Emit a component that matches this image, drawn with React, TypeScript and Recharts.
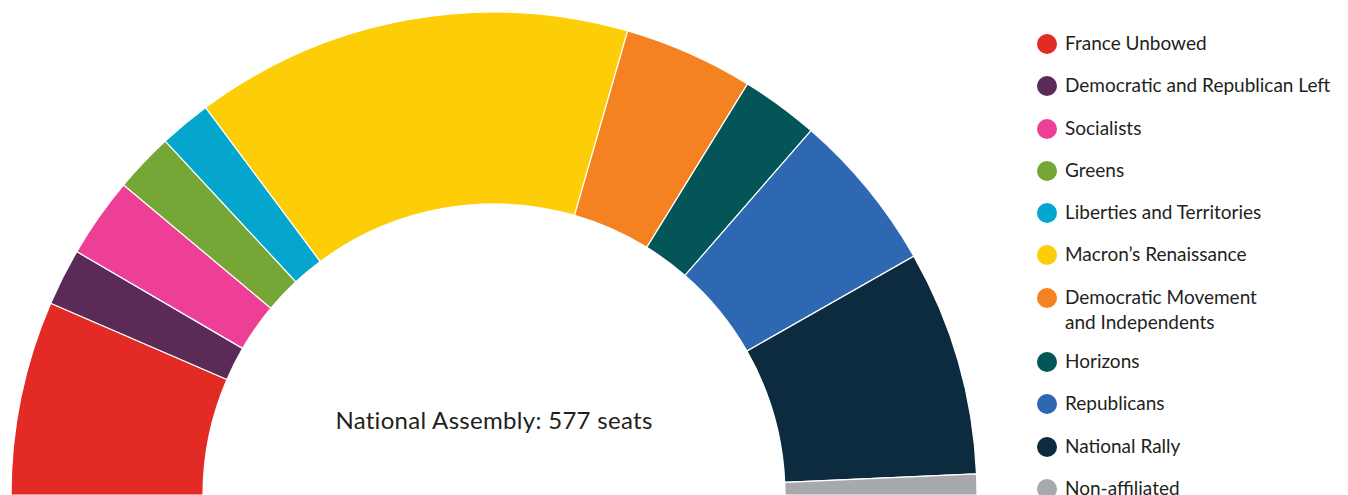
import React from "react";
import { PieChart, Pie, Cell, Legend } from "recharts";

const parties = [
  "France Unbowed",
  "Democratic and Republican Left",
  "Socialists",
  "Greens",
  "Liberties and Territories",
  "Macron’s Renaissance",
  "Democratic Movement\nand Independents",
  "Horizons",
  "Republicans",
  "National Rally",
  "Non-affiliated",
];
const seats = [75, 22, 31, 23, 20, 169, 50, 30, 62, 87, 8];
const colors = [
  "#e32b25",
  "#5b2a56",
  "#ee3f96",
  "#76a636",
  "#05a6cd",
  "#fdcd07",
  "#f58220",
  "#045557",
  "#2e68b2",
  "#0d2b3e",
  "#a7a9ac",
];
const centerTitle = "National Assembly: 577 seats";

const data = parties.map((name, i) => ({ name, value: seats[i], color: colors[i] }));

const FONT = "Lato, 'Open Sans', sans-serif";

const LegendContent = () => (
  <div style={{ fontFamily: FONT, color: "#231f20" }}>
    {data.map((d, i) => {
      const lines = d.name.split("\n");
      return (
        <div
          key={d.name}
          style={{ display: "flex", alignItems: "flex-start", height: lines.length > 1 ? 64.5 : 42.25 }}
        >
          <div
            style={{
              width: 20,
              height: 20,
              borderRadius: 10,
              background: d.color,
              marginTop: 3,
              flex: "none",
            }}
          />
          <div style={{ marginLeft: 8, fontSize: 19, lineHeight: "25px", marginTop: -1 }}>
            {lines.map((l) => (
              <div key={l}>{l}</div>
            ))}
          </div>
        </div>
      );
    })}
  </div>
);

export default function App() {
  return (
    <div style={{ position: "absolute", left: 0, top: 0, width: 1348, height: 495, background: "#fff" }}>
      <PieChart width={1348} height={495} margin={{ top: 0, right: 0, bottom: 0, left: 0 }}>
        <Pie
          data={data}
          dataKey="value"
          nameKey="name"
          cx={494}
          cy={495}
          innerRadius={291}
          outerRadius={483}
          startAngle={180}
          endAngle={0}
          stroke="#ffffff"
          strokeWidth={1.2}
          isAnimationActive={false}
        >
          {data.map((d) => (
            <Cell key={d.name} fill={d.color} />
          ))}
        </Pie>
        <Legend
          content={<LegendContent />}
          layout="vertical"
          verticalAlign="top"
          align="right"
          wrapperStyle={{ position: "absolute", left: 1037, top: 31, width: 311 }}
        />
      </PieChart>
      <div
        style={{
          position: "absolute",
          left: 244,
          width: 500,
          top: 405,
          textAlign: "center",
          fontFamily: FONT,
          fontSize: 24,
          fontWeight: 400,
          letterSpacing: 0.3,
          color: "#231f20",
        }}
      >
        {centerTitle}
      </div>
    </div>
  );
}
